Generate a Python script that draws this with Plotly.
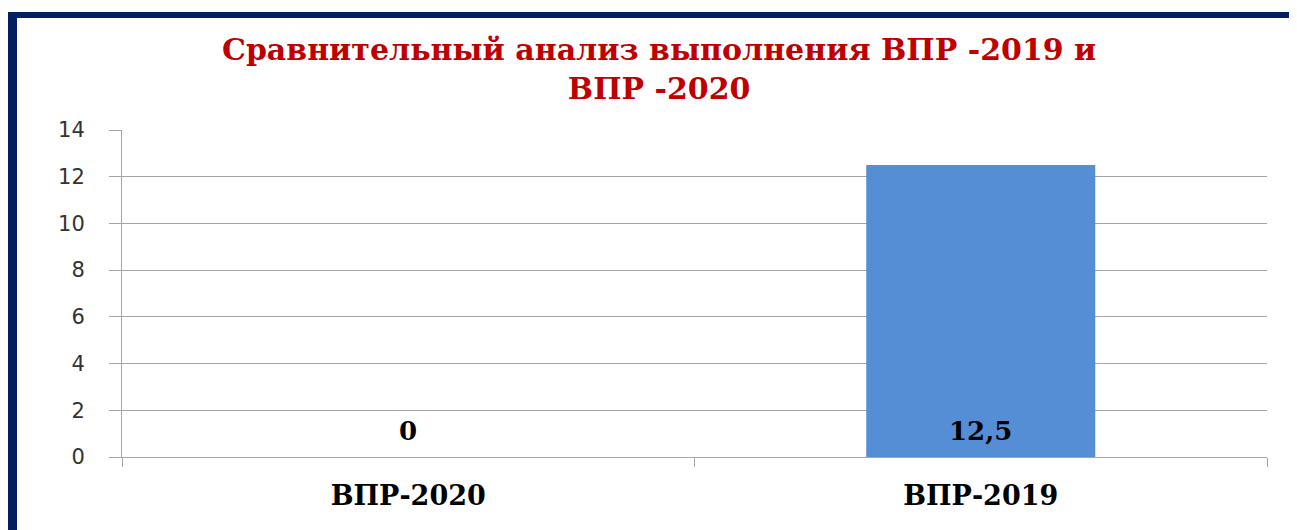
import plotly.graph_objects as go

# данные
categories = ["ВПР-2020", "ВПР-2019"]
values = [0, 12.5]
y_ticks = [0, 2, 4, 6, 8, 10, 12, 14]
title_text = "Сравнительный анализ выполнения ВПР -2019 и<br>ВПР -2020"

# страница сдвинута на отступ body (8px)
OFF = 8
W, H = 1297 - OFF, 530 - OFF
L, R, T, B = 122 - OFF, 30, 130 - OFF, 73
PW, PH = W - L - R, H - T - B


def px(x):
    # пиксель окна -> доля области графика
    return (x - OFF - L) / PW


def py(y):
    return (H - B - (y - OFF)) / PH


serif = "DejaVu Serif"
grid_col = "#A6A6A6"

fig = go.Figure()

fig.add_trace(go.Bar(
    x=categories,
    y=values,
    width=0.4,
    marker=dict(color="#558ED5", line=dict(width=0)),
    hoverinfo="x+y",
))

# подписи значений у основания столбцов
for cat, val in zip(categories, values):
    fig.add_annotation(
        x=cat, y=0, xref="x", yref="y",
        text=f"{val:g}".replace(".", ","),
        showarrow=False,
        yshift=26,
        font=dict(family=serif, size=26, color="black", weight="bold"),
    )

# заголовок
fig.add_annotation(
    x=px(659), y=py(69), xref="paper", yref="paper",
    text=title_text, showarrow=False,
    xanchor="center", yanchor="middle",
    font=dict(family=serif, size=30, color="#C00000", weight="bold"),
)

# рамка слайда
navy = "#002060"
fig.add_shape(type="rect", xref="paper", yref="paper",
              x0=px(8), x1=px(17), y0=py(560), y1=py(12),
              fillcolor=navy, line=dict(width=0), layer="above")
fig.add_shape(type="rect", xref="paper", yref="paper",
              x0=px(8), x1=px(1320), y0=py(18), y1=py(12),
              fillcolor=navy, line=dict(width=0), layer="above")

fig.update_layout(
    width=W, height=H,
    margin=dict(l=L, r=R, t=T, b=B),
    paper_bgcolor="white",
    plot_bgcolor="white",
    showlegend=False,
    xaxis=dict(
        type="category",
        showgrid=False,
        showline=True, linecolor=grid_col, linewidth=1,
        ticks="outside", tickson="boundaries", ticklen=9,
        tickcolor=grid_col, tickwidth=1,
        ticklabelstandoff=15,
        tickfont=dict(family=serif, size=27, color="black", weight="bold"),
    ),
    yaxis=dict(
        range=[0, 14],
        tickvals=y_ticks,
        showgrid=True, gridcolor=grid_col, gridwidth=1,
        zeroline=False,
        showline=True, linecolor=grid_col, linewidth=1,
        ticks="outside", ticklen=12, tickcolor=grid_col, tickwidth=1,
        ticklabelstandoff=20,
        tickfont=dict(family="DejaVu Sans", size=21, color="#333333"),
    ),
)

fig.write_html("out.html")
